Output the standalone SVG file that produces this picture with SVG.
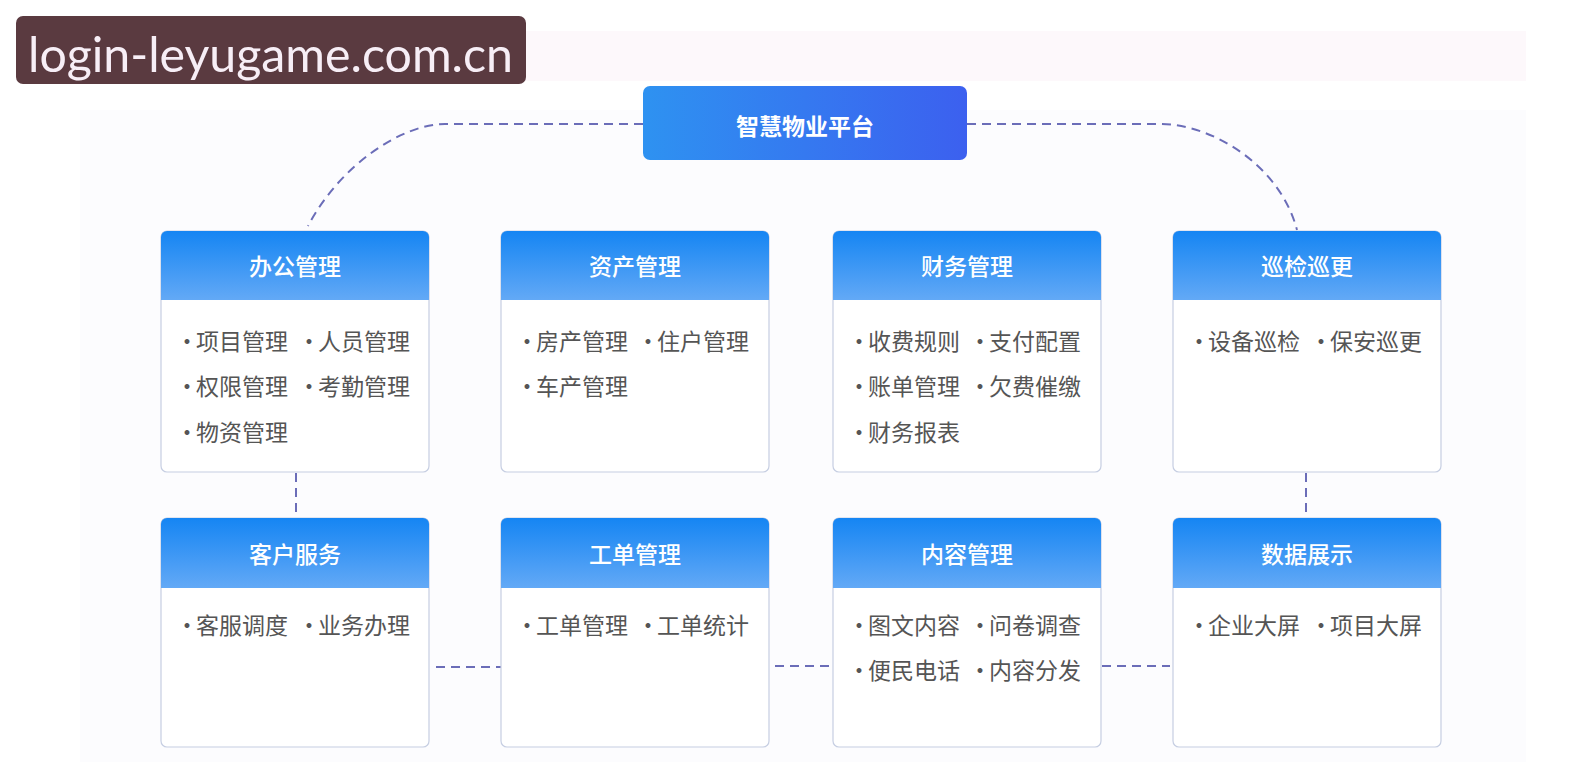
<svg xmlns="http://www.w3.org/2000/svg" width="1585" height="762" viewBox="0 0 1585 762">
<defs>
<linearGradient id="gTop" x1="0" y1="0" x2="1" y2="0">
<stop offset="0" stop-color="#2e92f1"/>
<stop offset="1" stop-color="#3c60ef"/>
</linearGradient>
<linearGradient id="gHead" x1="0" y1="0" x2="0" y2="1">
<stop offset="0" stop-color="#1585f3"/>
<stop offset="1" stop-color="#63a9f6"/>
</linearGradient>
<style>
.bg{fill:#fcfcfe}
.band{fill:#fdf8fb}
.body{fill:#ffffff;stroke:#c6cee2;stroke-width:1.2}
.head{fill:url(#gHead)}
.ttl{font-family:"Noto Sans CJK SC","Noto Sans",sans-serif;font-size:23px;fill:#ffffff;text-anchor:middle;font-weight:500}
.it{font-family:"Noto Sans CJK SC","Noto Sans",sans-serif;font-size:23px;fill:#555555}
.dot{text-anchor:middle}
.conn{fill:none;stroke:#6b6db8;stroke-width:2;stroke-dasharray:9 6}
</style>
</defs>
<rect class="band" x="520" y="31" width="1006" height="50"/>
<rect class="bg" x="80" y="110" width="1446" height="652"/>

<g id="watermark">
<rect x="16" y="16" width="510" height="68" rx="7" fill="#5a3a40"/>
<text x="28" y="72" font-family="Lato,'DejaVu Sans',sans-serif" font-size="48" fill="#f7eef6" textLength="485" lengthAdjust="spacingAndGlyphs">login-leyugame.com.cn</text>
</g>

<g id="connectors">
<path class="conn" d="M 643 124 L 445 124 C 402 124 340 165 308 226"/>
<path class="conn" d="M 967 124 L 1160 124 C 1212 124 1280 165 1297 230"/>
<path class="conn" d="M 296 473 V 517"/>
<path class="conn" d="M 1306 473 V 517"/>
<path class="conn" d="M 436 667 H 501"/>
<path class="conn" d="M 775 666 H 832"/>
<path class="conn" d="M 1102 666 H 1170"/>
</g>

<g id="platform">
<rect x="643" y="86" width="324" height="74" rx="7" fill="url(#gTop)"/>
<text x="805" y="135" font-family="'Noto Sans CJK SC','Noto Sans',sans-serif" font-size="23" font-weight="700" fill="#ffffff" text-anchor="middle">智慧物业平台</text>
</g>

<g id="office">
<rect class="body" x="161" y="231" width="268" height="241" rx="6"/>
<path class="head" d="M 161 300 V 237 a 6 6 0 0 1 6 -6 H 423 a 6 6 0 0 1 6 6 V 300 Z"/>
<text class="ttl" x="295" y="275">办公管理</text>
<text class="it"><tspan class="dot" x="187" y="350">·</tspan><tspan x="196" y="350">项目管理</tspan></text>
<text class="it"><tspan class="dot" x="309" y="350">·</tspan><tspan x="318" y="350">人员管理</tspan></text>
<text class="it"><tspan class="dot" x="187" y="395">·</tspan><tspan x="196" y="395">权限管理</tspan></text>
<text class="it"><tspan class="dot" x="309" y="395">·</tspan><tspan x="318" y="395">考勤管理</tspan></text>
<text class="it"><tspan class="dot" x="187" y="441">·</tspan><tspan x="196" y="441">物资管理</tspan></text>
</g>

<g id="asset">
<rect class="body" x="501" y="231" width="268" height="241" rx="6"/>
<path class="head" d="M 501 300 V 237 a 6 6 0 0 1 6 -6 H 763 a 6 6 0 0 1 6 6 V 300 Z"/>
<text class="ttl" x="635" y="275">资产管理</text>
<text class="it"><tspan class="dot" x="527" y="350">·</tspan><tspan x="536" y="350">房产管理</tspan></text>
<text class="it"><tspan class="dot" x="648" y="350">·</tspan><tspan x="657" y="350">住户管理</tspan></text>
<text class="it"><tspan class="dot" x="527" y="395">·</tspan><tspan x="536" y="395">车产管理</tspan></text>
</g>

<g id="finance">
<rect class="body" x="833" y="231" width="268" height="241" rx="6"/>
<path class="head" d="M 833 300 V 237 a 6 6 0 0 1 6 -6 H 1095 a 6 6 0 0 1 6 6 V 300 Z"/>
<text class="ttl" x="967" y="275">财务管理</text>
<text class="it"><tspan class="dot" x="859" y="350">·</tspan><tspan x="868" y="350">收费规则</tspan></text>
<text class="it"><tspan class="dot" x="980" y="350">·</tspan><tspan x="989" y="350">支付配置</tspan></text>
<text class="it"><tspan class="dot" x="859" y="395">·</tspan><tspan x="868" y="395">账单管理</tspan></text>
<text class="it"><tspan class="dot" x="980" y="395">·</tspan><tspan x="989" y="395">欠费催缴</tspan></text>
<text class="it"><tspan class="dot" x="859" y="441">·</tspan><tspan x="868" y="441">财务报表</tspan></text>
</g>

<g id="patrol">
<rect class="body" x="1173" y="231" width="268" height="241" rx="6"/>
<path class="head" d="M 1173 300 V 237 a 6 6 0 0 1 6 -6 H 1435 a 6 6 0 0 1 6 6 V 300 Z"/>
<text class="ttl" x="1307" y="275">巡检巡更</text>
<text class="it"><tspan class="dot" x="1199" y="350">·</tspan><tspan x="1208" y="350">设备巡检</tspan></text>
<text class="it"><tspan class="dot" x="1321" y="350">·</tspan><tspan x="1330" y="350">保安巡更</tspan></text>
</g>

<g id="customer">
<rect class="body" x="161" y="518" width="268" height="229" rx="6"/>
<path class="head" d="M 161 588 V 524 a 6 6 0 0 1 6 -6 H 423 a 6 6 0 0 1 6 6 V 588 Z"/>
<text class="ttl" x="295" y="563">客户服务</text>
<text class="it"><tspan class="dot" x="187" y="634">·</tspan><tspan x="196" y="634">客服调度</tspan></text>
<text class="it"><tspan class="dot" x="309" y="634">·</tspan><tspan x="318" y="634">业务办理</tspan></text>
</g>

<g id="workorder">
<rect class="body" x="501" y="518" width="268" height="229" rx="6"/>
<path class="head" d="M 501 588 V 524 a 6 6 0 0 1 6 -6 H 763 a 6 6 0 0 1 6 6 V 588 Z"/>
<text class="ttl" x="635" y="563">工单管理</text>
<text class="it"><tspan class="dot" x="527" y="634">·</tspan><tspan x="536" y="634">工单管理</tspan></text>
<text class="it"><tspan class="dot" x="648" y="634">·</tspan><tspan x="657" y="634">工单统计</tspan></text>
</g>

<g id="content">
<rect class="body" x="833" y="518" width="268" height="229" rx="6"/>
<path class="head" d="M 833 588 V 524 a 6 6 0 0 1 6 -6 H 1095 a 6 6 0 0 1 6 6 V 588 Z"/>
<text class="ttl" x="967" y="563">内容管理</text>
<text class="it"><tspan class="dot" x="859" y="634">·</tspan><tspan x="868" y="634">图文内容</tspan></text>
<text class="it"><tspan class="dot" x="980" y="634">·</tspan><tspan x="989" y="634">问卷调查</tspan></text>
<text class="it"><tspan class="dot" x="859" y="679">·</tspan><tspan x="868" y="679">便民电话</tspan></text>
<text class="it"><tspan class="dot" x="980" y="679">·</tspan><tspan x="989" y="679">内容分发</tspan></text>
</g>

<g id="dataview">
<rect class="body" x="1173" y="518" width="268" height="229" rx="6"/>
<path class="head" d="M 1173 588 V 524 a 6 6 0 0 1 6 -6 H 1435 a 6 6 0 0 1 6 6 V 588 Z"/>
<text class="ttl" x="1307" y="563">数据展示</text>
<text class="it"><tspan class="dot" x="1199" y="634">·</tspan><tspan x="1208" y="634">企业大屏</tspan></text>
<text class="it"><tspan class="dot" x="1321" y="634">·</tspan><tspan x="1330" y="634">项目大屏</tspan></text>
</g>
</svg>
